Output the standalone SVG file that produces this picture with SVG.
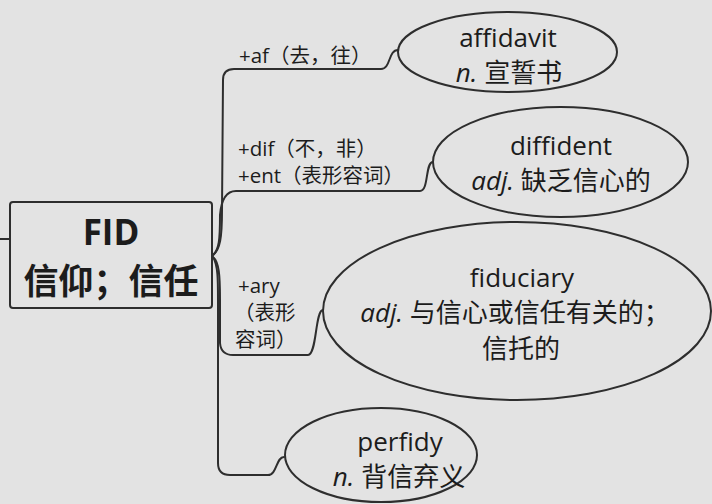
<svg xmlns="http://www.w3.org/2000/svg" width="712" height="504" viewBox="0 0 712 504">
<style>
.bg{fill:#e3e3e3}
.ln{fill:none;stroke:#2e2e2e;stroke-width:2;stroke-linecap:round;stroke-linejoin:round}
.nd{fill:none;stroke:#2e2e2e;stroke-width:2}
text{font-family:"Open Sans","Noto Sans CJK SC",sans-serif;fill:#1c1c1c}
.lb{font-size:20.5px}
.w{font-size:26px;text-anchor:middle}
.it{font-style:italic}
.c{font-size:35px;font-weight:bold;text-anchor:middle}
</style>
<rect class="bg" x="0" y="0" width="712" height="504"/>
<g id="connectors">
<path class="ln" d="M0,239 L10,239"/>
<path class="ln" d="M213,255 C220,250 222,238 222,210 L223,80 Q223,69 234,69 L381,69 C391,69 388,50 398,50"/>
<path class="ln" d="M213,255 C219,250 220,240 220,215 Q222,191 236,191 L420,191 C429,191 425,162 433,162"/>
<path class="ln" d="M213,257 C219,262 220,275 220,300 L220,343 Q221,355 233,355 L308,355 C317,355 315,310 323,310"/>
<path class="ln" d="M213,257 C218,265 218,280 218,300 L218,463 Q218,475 230,475 L268,475 C277,475 276,457 284,457"/>
</g>
<g id="center">
<rect class="nd" x="10" y="202" width="202" height="106" rx="3"/>
<text class="c" x="111" y="245">FID</text>
<text class="c" x="111" y="294">信仰；信任</text>
</g>
<g id="label-af"><text class="lb" x="239" y="63">+af（去，往）</text></g>
<g id="label-dif">
<text class="lb" x="238" y="156">+dif（不，非）</text>
<text class="lb" x="238" y="183">+ent（表形容词）</text>
</g>
<g id="label-ary">
<text class="lb" x="238" y="293">+ary</text>
<text class="lb" x="234" y="320">（表形</text>
<text class="lb" x="235" y="347">容词）</text>
</g>
<g id="affidavit">
<ellipse class="nd" cx="507.5" cy="52" rx="109.5" ry="40"/>
<text class="w" x="508" y="47">affidavit</text>
<text class="w" x="509" y="82"><tspan class="it">n.</tspan> 宣誓书</text>
</g>
<g id="diffident">
<ellipse class="nd" cx="560.5" cy="162" rx="127.5" ry="55"/>
<text class="w" x="561" y="155">diffident</text>
<text class="w" x="561" y="190"><tspan class="it">adj.</tspan> 缺乏信心的</text>
</g>
<g id="fiduciary">
<ellipse class="nd" cx="517" cy="311" rx="194" ry="89"/>
<text class="w" x="522" y="287">fiduciary</text>
<text class="w" x="515" y="322"><tspan class="it">adj.</tspan> 与信心或信任有关的；</text>
<text class="w" x="521" y="358">信托的</text>
</g>
<g id="perfidy">
<ellipse class="nd" cx="381" cy="455" rx="96" ry="47"/>
<text class="w" x="400" y="451">perfidy</text>
<text class="w" x="399" y="486"><tspan class="it">n.</tspan> 背信弃义</text>
</g>
</svg>
